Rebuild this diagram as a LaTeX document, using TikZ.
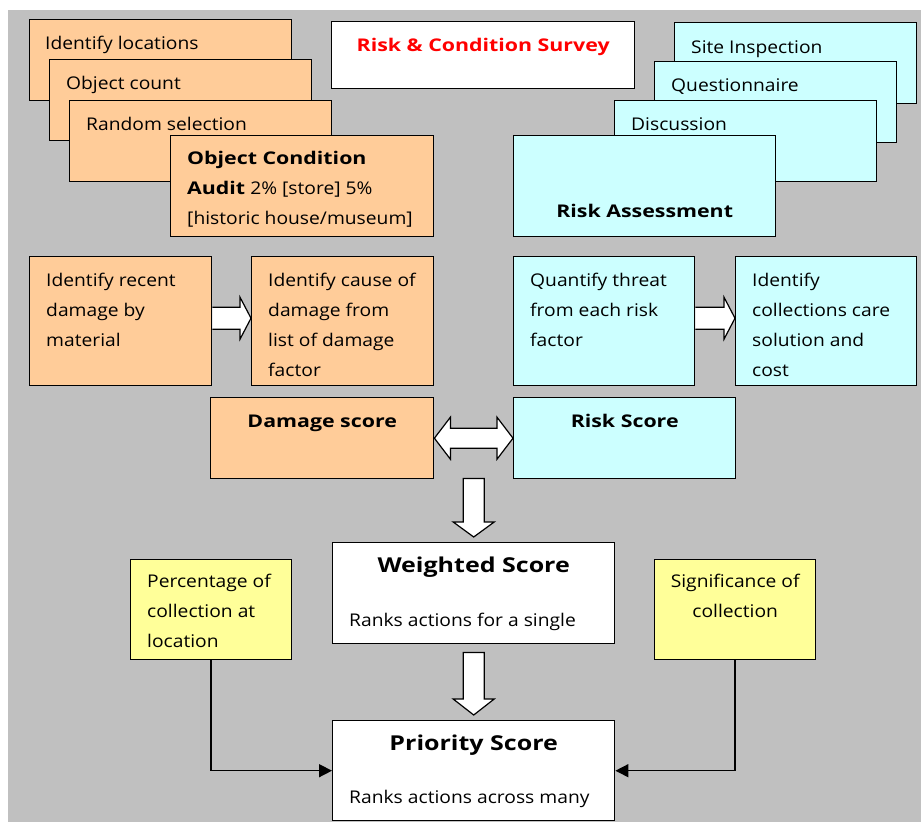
\documentclass[tikz,border=0pt]{standalone}
\usepackage{fontspec}
\setmainfont{Open Sans}[FakeStretch=1.1]
\newfontfamily\headfont{Open Sans}[FakeStretch=1.22]
\usetikzlibrary{arrows.meta,positioning,calc}
\definecolor{bggray}{RGB}{192,192,192}
\definecolor{dmgorange}{RGB}{255,204,153}
\definecolor{riskcyan}{RGB}{204,255,255}
\definecolor{noteyellow}{RGB}{255,255,153}
\definecolor{titlered}{RGB}{255,0,0}

\tikzset{
  card/.style={draw=black,line width=1.4pt,anchor=north west,inner sep=0pt},
  dmg/.style={card,fill=dmgorange},
  risk/.style={card,fill=riskcyan},
  note/.style={card,fill=noteyellow},
  plain/.style={card,fill=white},
  txt/.style={anchor=north west,inner sep=0pt,align=left,font=\fontsize{17.5}{30}\selectfont,
    execute at begin node=\rule{0pt}{22pt}},
  ctxt/.style={txt,anchor=north,align=center},
  headtxt/.style={ctxt,font=\fontsize{17.5}{30}\selectfont\headfont\bfseries},
  bigtxt/.style={ctxt,font=\fontsize{20.5}{30}\selectfont\headfont\bfseries},
  blockarrow/.style={draw=black,line width=1.2pt,fill=white,line join=miter},
  feed/.style={draw=black,line width=1.5pt,-{Triangle[length=13pt,width=13pt]}}
}

\begin{document}
\begin{tikzpicture}[x=1pt,y=-1pt]
\useasboundingbox (0,0) rectangle (921,822);
\fill[bggray] (8,10) rectangle (921,822);

% condition audit stack
\node[dmg,minimum width=262,minimum height=81] (locations) at (29,19) {};
\node[txt] (locationstxt) at ($(locations.north west)+(16,8)$) {Identify locations};
\node[dmg,minimum width=262,minimum height=81] (count) at (49,59) {};
\node[txt] (counttxt) at ($(count.north west)+(17,8)$) {Object count};
\node[dmg,minimum width=262,minimum height=81] (random) at (69,100) {};
\node[txt] (randomtxt) at ($(random.north west)+(17,8)$) {Random selection};
\node[dmg,minimum width=263,minimum height=101] (audit) at (170,135) {};
\node[txt] (audittxt) at ($(audit.north west)+(17,16)$)
  {{\headfont\bfseries Object Condition}\\{\headfont\bfseries Audit} 2\% [store] 5\%\\{}[historic house/museum]};

% title
\node[plain,minimum width=303,minimum height=67] (survey) at (331,21) {};
\node[headtxt,text=titlered] (surveytxt) at ($(survey.north)+(0,8)$) {Risk \& Condition Survey};

% risk assessment stack
\node[risk,minimum width=242,minimum height=81] (site) at (674,22) {};
\node[txt] (sitetxt) at ($(site.north west)+(17,9)$) {Site Inspection};
\node[risk,minimum width=242,minimum height=81] (quest) at (654,61) {};
\node[txt] (questtxt) at ($(quest.north west)+(17,8)$) {Questionnaire};
\node[risk,minimum width=262,minimum height=81] (discuss) at (614,100) {};
\node[txt] (discusstxt) at ($(discuss.north west)+(17,8)$) {Discussion};
\node[risk,minimum width=262,minimum height=101] (assess) at (513,135) {};
\node[headtxt] (assesstxt) at ($(assess.north)+(0,60)$) {Risk Assessment};

% second row
\node[dmg,minimum width=182,minimum height=129] (recent) at (29,256) {};
\node[txt] (recenttxt) at ($(recent.north west)+(17,17)$) {Identify recent\\damage by\\material};
\node[dmg,minimum width=182,minimum height=129] (cause) at (251,256) {};
\node[txt] (causetxt) at ($(cause.north west)+(17,17)$) {Identify cause of\\damage from\\list of damage\\factor};
\node[risk,minimum width=181,minimum height=129] (threat) at (513,256) {};
\node[txt] (threattxt) at ($(threat.north west)+(17,17)$) {Quantify threat\\from each risk\\factor};
\node[risk,minimum width=181,minimum height=129] (care) at (735,256) {};
\node[txt] (caretxt) at ($(care.north west)+(17,17)$) {Identify\\collections care\\solution and\\cost};

% scores
\node[dmg,minimum width=223,minimum height=81] (dmgscore) at (210,397) {};
\node[headtxt] (dmgscoretxt) at ($(dmgscore.north)+(0,8)$) {Damage score};
\node[risk,minimum width=222,minimum height=81] (riskscore) at (513,397) {};
\node[headtxt] (riskscoretxt) at ($(riskscore.north)+(0,8)$) {Risk Score};

\node[plain,minimum width=282,minimum height=101] (weighted) at (332,542) {};
\node[bigtxt] (weightedtxt) at ($(weighted.north)+(0,8)$) {Weighted Score};
\node[txt] (weightednote) at ($(weighted.north west)+(17,62)$) {Ranks actions for a single};
\node[plain,minimum width=282,minimum height=100] (priority) at (332,720) {};
\node[bigtxt] (prioritytxt) at ($(priority.north)+(0,8)$) {Priority Score};
\node[txt] (prioritynote) at ($(priority.north west)+(17,61)$) {Ranks actions across many};

\node[note,minimum width=161,minimum height=100] (pct) at (130,559) {};
\node[txt] (pcttxt) at ($(pct.north west)+(17,15)$) {Percentage of\\collection at\\location};
\node[note,minimum width=161,minimum height=100] (signif) at (654,559) {};
\node[ctxt] (signiftxt) at ($(signif.north)+(0,15)$) {Significance of\\collection};

% block arrows
\draw[blockarrow] ($(recent.east)+(0,-14)$) -- ($(cause.west)+(-11,-14)$) -- ($(cause.west)+(-11,-24)$)
  -- ($(cause.west)+(0,-3)$) -- ($(cause.west)+(-11,18)$) -- ($(cause.west)+(-11,8)$) -- ($(recent.east)+(0,8)$);
\draw[blockarrow] ($(threat.east)+(0,-14)$) -- ($(care.west)+(-11,-14)$) -- ($(care.west)+(-11,-24)$)
  -- ($(care.west)+(0,-3)$) -- ($(care.west)+(-11,18)$) -- ($(care.west)+(-11,8)$) -- ($(threat.east)+(0,8)$);
\draw[blockarrow] (dmgscore.east) -- ($(dmgscore.east)+(16,-21)$) -- ($(dmgscore.east)+(16,-10)$)
  -- ($(riskscore.west)+(-16,-10)$) -- ($(riskscore.west)+(-16,-21)$) -- (riskscore.west)
  -- ($(riskscore.west)+(-16,21)$) -- ($(riskscore.west)+(-16,10)$) -- ($(dmgscore.east)+(16,10)$)
  -- ($(dmgscore.east)+(16,21)$) -- cycle;
\coordinate (scoresgap) at (weighted.north |- dmgscore.south);
\draw[blockarrow] ($(scoresgap)+(-10.5,-1)$) -- ($(weighted.north)+(-10.5,-20)$) -- ($(weighted.north)+(-20.5,-20)$)
  -- ($(weighted.north)+(0,-5)$) -- ($(weighted.north)+(20.5,-20)$) -- ($(weighted.north)+(10.5,-20)$)
  -- ($(scoresgap)+(10.5,-1)$) -- cycle;
\draw[blockarrow] ($(weighted.south)+(-10.5,8)$) -- ($(priority.north)+(-10.5,-21)$) -- ($(priority.north)+(-20.5,-21)$)
  -- ($(priority.north)+(0,-5)$) -- ($(priority.north)+(20.5,-21)$) -- ($(priority.north)+(10.5,-21)$)
  -- ($(weighted.south)+(10.5,8)$) -- cycle;

% weighting inputs
\draw[feed] (pct.south) |- (priority.west);
\draw[feed] (signif.south) |- (priority.east);
\end{tikzpicture}
\end{document}
